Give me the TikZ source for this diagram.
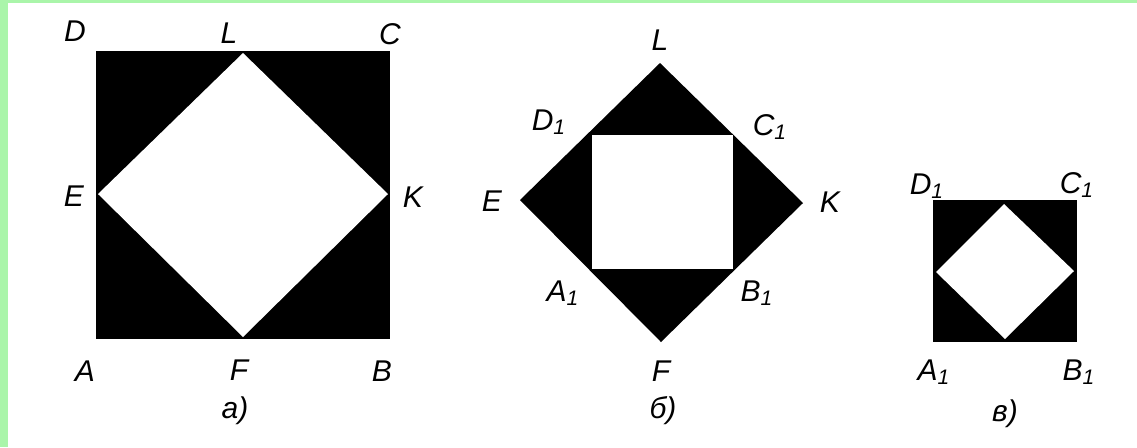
\documentclass[tikz,border=0pt]{standalone}
\usepackage{fontspec}
\setmainfont{Liberation Sans}
\usepackage{xcolor}
\usetikzlibrary{positioning}
\definecolor{frame}{HTML}{AAF5AA}
\tikzset{lbl/.style={font=\fontsize{15}{17}\selectfont\itshape, inner sep=0pt, anchor=base}}

\begin{document}
\begin{tikzpicture}[x=0.5pt,y=-0.5pt]
\useasboundingbox (0,0) rectangle (1137,447);
\fill[frame] (0,0) rectangle (1137,447);
\fill[white] (8,3) rectangle (1137,447);

% a)
\coordinate (A) at (96,339);
\coordinate (C) at (390,51);
\coordinate (L) at (243,53);
\coordinate (K) at (388,194);
\coordinate (F) at (243,337);
\coordinate (E) at (98,194);
\fill[black] (A) rectangle (C);
\fill[white] (E) -- (L) -- (K) -- (F) -- cycle;
\node[lbl] (lD) at (75,41) {D};
\node[lbl] (lL) at (229,43) {L};
\node[lbl] (lC) at (390,44) {C};
\node[lbl] (lE) at (74,206) {E};
\node[lbl] (lK) at (413,207) {K};
\node[lbl] (lA) at (85,381) {A};
\node[lbl] (lF) at (239,380) {F};
\node[lbl] (lB) at (382,381) {B};
\node[lbl] (capa) at (235,418) {а)};

% b)
\coordinate (L2) at (660,63);
\coordinate (K2) at (803,203);
\coordinate (F2) at (661,342);
\coordinate (E2) at (520,200);
\coordinate (A12) at (592,269);
\coordinate (C12) at (733,135);
\fill[black] (E2) -- (L2) -- (K2) -- (F2) -- cycle;
\fill[white] (A12) rectangle (C12);
\node[lbl] (lL2) at (660,50) {L};
\node[lbl] (lD12) at (549,130) {D\textsubscript{1}};
\node[lbl] (lC12) at (770,135) {C\textsubscript{1}};
\node[lbl] (lE2) at (492,211) {E};
\node[lbl] (lK2) at (830,212) {K};
\node[lbl] (lA12) at (563,301) {A\textsubscript{1}};
\node[lbl] (lB12) at (757,301) {B\textsubscript{1}};
\node[lbl] (lF2) at (661,381) {F};
\node[lbl] (capb) at (663,418) {б)};

% v)
\coordinate (A13) at (933,342);
\coordinate (C13) at (1077,200);
\coordinate (T3) at (1004,204);
\coordinate (R3) at (1074,271);
\coordinate (B3) at (1005,339);
\coordinate (L3) at (936,272);
\fill[black] (A13) rectangle (C13);
\fill[white] (L3) -- (T3) -- (R3) -- (B3) -- cycle;
\node[lbl] (lD13) at (927,194) {D\textsubscript{1}};
\node[lbl] (lC13) at (1077,193) {C\textsubscript{1}};
\node[lbl] (lA13) at (934,380) {A\textsubscript{1}};
\node[lbl] (lB13) at (1079,380) {B\textsubscript{1}};
\node[lbl] (capv) at (1005,421) {в)};
\end{tikzpicture}
\end{document}
